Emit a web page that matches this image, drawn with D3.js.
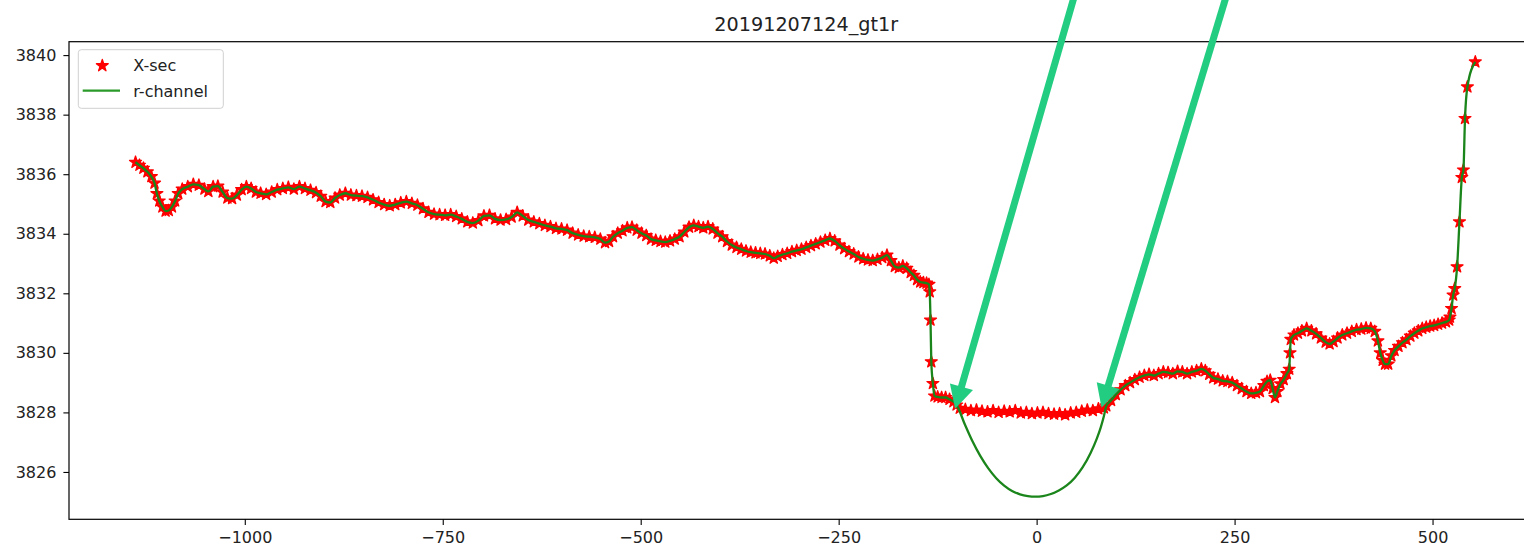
<!DOCTYPE html>
<html>
<head>
<meta charset="utf-8">
<script src="https://cdn.jsdelivr.net/npm/d3@7"></script>
<style>
  body { margin: 0; overflow: hidden; background: #fff; }
  svg { display: block; font-family: "DejaVu Sans", sans-serif; }
</style>
</head>
<body>
<svg id="chart"></svg>
<script>
//Cross section + r-channel fit

//values
const chartTitle = "20191207124_gt1r";

//x-sec west of the channel
const westX = [-1138,-1133,-1128,-1123,-1118,-1114,-1111,-1108,-1104,-1100,
  -1096,-1092,-1088,-1084,-1079,-1072,-1065,-1058,-1051,-1046,
  -1040,-1034,-1028,-1022,-1016,-1010,-1004,-998,-992,-986,
  -980,-973,-966,-959,-952,-945,-938,-931,-924,-917,
  -910,-904,-898,-892,-886,-880,-873,-866,-859,-852,
  -845,-838,-831,-824,-817,-810,-803,-796,-789,-782,
  -775,-768,-761,-754,-747,-740,-733,-726,-719,-712,
  -705,-698,-691,-684,-677,-670,-663,-656,-649,-642,
  -635,-628,-621,-614,-607,-600,-593,-586,-579,-572,
  -565,-558,-551,-545,-540,-535,-529,-523,-517,-511,
  -505,-499,-493,-487,-481,-475,-469,-463,-457,-451,
  -445,-439,-433,-427,-421,-415,-409,-403,-397,-391,
  -385,-379,-373,-367,-361,-355,-349,-343,-337,-332,
  -327,-321,-315,-309,-303,-297,-291,-285,-279,-273,
  -267,-261,-255,-249,-243,-237,-231,-225,-219,-213,
  -207,-201,-195,-189,-184,-179,-174,-169,-164,-159,
  -155,-151,-147,-143,-139,-136,-135,-134,-133,-131,
  -129,-125,-120,-115,-110,-105];
const westY = [3836.40,3836.30,3836.20,3836.08,3835.92,3835.70,3835.35,3835.10,3834.90,3834.76,
  3834.78,3834.90,3835.10,3835.35,3835.50,3835.58,3835.66,3835.63,3835.50,3835.42,
  3835.58,3835.60,3835.40,3835.20,3835.18,3835.30,3835.48,3835.58,3835.52,3835.40,
  3835.36,3835.32,3835.40,3835.48,3835.52,3835.56,3835.50,3835.58,3835.52,3835.46,
  3835.38,3835.26,3835.08,3835.05,3835.20,3835.30,3835.36,3835.30,3835.28,3835.26,
  3835.22,3835.14,3835.05,3834.98,3834.94,3834.98,3835.04,3835.08,3835.02,3834.96,
  3834.84,3834.72,3834.66,3834.64,3834.62,3834.64,3834.58,3834.50,3834.40,3834.36,
  3834.44,3834.60,3834.62,3834.50,3834.46,3834.48,3834.56,3834.72,3834.60,3834.46,
  3834.40,3834.34,3834.28,3834.24,3834.18,3834.16,3834.12,3834.02,3833.96,3833.92,
  3833.90,3833.88,3833.82,3833.70,3833.74,3833.90,3834.02,3834.10,3834.20,3834.22,
  3834.12,3834.02,3833.94,3833.82,3833.78,3833.74,3833.72,3833.76,3833.82,3833.90,
  3834.06,3834.22,3834.28,3834.24,3834.20,3834.24,3834.16,3834.02,3833.90,3833.74,
  3833.62,3833.54,3833.48,3833.42,3833.38,3833.36,3833.34,3833.32,3833.26,3833.18,
  3833.24,3833.30,3833.34,3833.40,3833.44,3833.48,3833.54,3833.60,3833.66,3833.72,
  3833.78,3833.84,3833.76,3833.62,3833.50,3833.40,3833.32,3833.22,3833.16,3833.12,
  3833.10,3833.14,3833.20,3833.28,3833.10,3832.90,3832.86,3832.92,3832.84,3832.70,
  3832.60,3832.46,3832.38,3832.36,3832.34,3832.30,3832.05,3831.10,3829.70,3828.97,
  3828.55,3828.52,3828.50,3828.50,3828.44,3828.36];

//x-sec across the flat channel bottom
const channelX = [-101,-97,-90,-83,-76,-69,-62,-55,-48,-41,-34,-27,-20,-13,-6,1,8,15,22,29,36,43,50,57,64,71,78,85];
const channelY = [3828.25,3828.14,3828.10,3828.06,3828.08,3828.04,3828.02,3828.06,3828.00,3828.04,3828.02,3828.06,3827.98,3828.00,
  3827.96,3827.98,3828.00,3827.96,3827.94,3827.96,3827.92,3827.98,3828.00,3828.04,3828.08,3828.06,3828.12,3828.15];

//x-sec east of the channel
const eastX = [88,94,100,106,112,118,124,130,136,142,
  148,154,160,166,172,178,184,190,196,202,
  208,213,218,223,229,235,241,247,253,259,
  265,271,277,282,287,291,295,298,301,304,
  308,312,316,319,320,321,325,330,335,341,
  347,353,359,365,370,375,380,386,392,398,
  404,410,416,422,427,431,434,437,440,444,
  448,452,457,462,467,472,477,482,487,492,
  497,502,507,512,517,521,522,524,526,528,
  531,534,537,539,541,544,554];
const eastY = [3828.22,3828.40,3828.60,3828.76,3828.90,3829.00,3829.10,3829.18,3829.24,3829.28,
  3829.24,3829.30,3829.36,3829.34,3829.30,3829.38,3829.36,3829.30,3829.36,3829.40,
  3829.46,3829.40,3829.28,3829.16,3829.12,3829.06,3829.04,3829.00,3828.90,3828.80,
  3828.70,3828.64,3828.66,3828.70,3828.90,3829.04,3829.08,3828.80,3828.50,3828.70,
  3828.96,3829.10,3829.30,3829.45,3830.00,3830.45,3830.60,3830.66,3830.74,3830.82,
  3830.74,3830.64,3830.50,3830.36,3830.30,3830.38,3830.50,3830.60,3830.66,3830.72,
  3830.78,3830.80,3830.84,3830.82,3830.72,3830.40,3830.00,3829.75,3829.62,3829.62,
  3829.90,3830.08,3830.22,3830.34,3830.44,3830.56,3830.66,3830.74,3830.82,3830.86,
  3830.90,3830.92,3830.96,3831.00,3831.04,3831.10,3831.20,3831.49,3831.94,3832.16,
  3832.89,3834.40,3835.89,3836.14,3837.87,3838.93,3839.77];

//r-channel bowl under the flat bottom
const bowlX = [-101,-91,-81,-71,-61,-51,-41,-31,-21,-11,-2,8,18,28,38,48,58,68,76,81,85];
const bowlY = [3828.25,3827.62,3827.03,3826.53,3826.12,3825.79,3825.54,3825.36,3825.25,3825.19,3825.17,
  3825.19,3825.26,3825.38,3825.55,3825.80,3826.15,3826.63,3827.12,3827.50,3827.88];

//ticks
const xTicks = [-1000, -750, -500, -250, 0, 250, 500];
const yTicks = [3826, 3828, 3830, 3832, 3834, 3836, 3838, 3840];

//annotation arrows (data coords, tails run off the top)
const arrowTips = [[-103, 3828.12], [82, 3828.16]];
const arrowTails = [[50, 3842.2], [242, 3842.2]];

//build the two series
const zip = (xs, ys) => xs.map((x, i) => ({x: x, y: ys[i]}));
const xsec = zip(westX, westY).concat(zip(channelX, channelY), zip(eastX, eastY));
const rchannel = zip(westX, westY).concat(zip(bowlX, bowlY), zip(eastX, eastY));

const margin = {top: 41.7, left: 69};
const width = 1474.4;
const height = 477.6;

const svg = d3.select("#chart")
              .attr("width", 1560)
              .attr("height", 550);

const g = svg.append("g")
             .attr("transform", `translate(${margin.left}, ${margin.top})`);

//scales
const x = d3.scaleLinear()
            .domain([-1222, 640])
            .range([0, width]);

const y = d3.scaleLinear()
            .domain([3824.41, 3840.45])
            .range([height, 0]);

//axes
const xAxis = g.append("g")
               .attr("transform", `translate(0, ${height})`)
               .call(d3.axisBottom(x).tickValues(xTicks).tickSize(5.6).tickPadding(7).tickFormat(d3.format("d")));

const yAxis = g.append("g")
               .call(d3.axisLeft(y).tickValues(yTicks).tickSize(5.6).tickPadding(7).tickFormat(d3.format("d")));

[xAxis, yAxis].forEach(a => {
  a.select(".domain").remove();
  a.attr("font-family", null).attr("font-size", null);
  a.selectAll("line").attr("stroke", "#000").attr("stroke-width", 1.1);
  a.selectAll("text").attr("fill", "#222").style("font-size", "16px");
});

//x-sec stars
const star = d3.symbol().type(d3.symbolStar).size(44);

g.append("g")
 .selectAll("path")
 .data(xsec)
 .enter().append("path")
 .attr("d", star)
 .attr("transform", d => `translate(${x(d.x)}, ${y(d.y)})`)
 .attr("fill", "#ff0000")
 .attr("stroke", "#ff0000")
 .attr("stroke-width", 1.3)
 .attr("stroke-linejoin", "round");

//r-channel line
const line = d3.line()
               .x(d => x(d.x))
               .y(d => y(d.y))
               .curve(d3.curveMonotoneX);

g.append("path")
 .datum(rchannel)
 .attr("d", line)
 .attr("fill", "none")
 .attr("stroke", "#1a851a")
 .attr("stroke-width", 2.3)
 .attr("stroke-linejoin", "round");

//frame
g.append("rect")
 .attr("width", width)
 .attr("height", height)
 .attr("fill", "none")
 .attr("stroke", "#000")
 .attr("stroke-width", 1.2);

//title
svg.append("text")
   .attr("x", margin.left + width / 2)
   .attr("y", 31)
   .attr("text-anchor", "middle")
   .style("font-size", "19.2px")
   .attr("fill", "#222")
   .text(chartTitle);

//legend
const legend = g.append("g").attr("transform", "translate(9.3, 8)");

legend.append("rect")
      .attr("width", 145)
      .attr("height", 58.6)
      .attr("rx", 3)
      .attr("fill", "#fff")
      .attr("fill-opacity", 0.8)
      .attr("stroke", "#d0d0d0");

legend.append("path")
      .attr("d", star)
      .attr("transform", "translate(24, 16)")
      .attr("fill", "#ff0000")
      .attr("stroke", "#ff0000")
      .attr("stroke-width", 1.3)
      .attr("stroke-linejoin", "round");

legend.append("text")
      .attr("x", 55)
      .attr("y", 21.5)
      .style("font-size", "16px")
      .attr("fill", "#222")
      .text("X-sec");

legend.append("line")
      .attr("x1", 4.4).attr("x2", 41.7)
      .attr("y1", 41).attr("y2", 41)
      .attr("stroke", "#2a9a2a")
      .attr("stroke-width", 2.3);

legend.append("text")
      .attr("x", 55)
      .attr("y", 47)
      .style("font-size", "16px")
      .attr("fill", "#222")
      .text("r-channel");

//arrows pointing at the channel edges
const arrowColor = "#22cc80";
arrowTips.forEach((tip, i) => {
  const tx = x(tip[0]), ty = y(tip[1]);
  const sx = x(arrowTails[i][0]), sy = y(arrowTails[i][1]);
  const len = Math.hypot(tx - sx, ty - sy);
  const ux = (tx - sx) / len, uy = (ty - sy) / len;
  const headLen = 23, headHalf = 12;
  const bx = tx - ux * headLen, by = ty - uy * headLen;

  g.append("line")
   .attr("x1", sx).attr("y1", sy)
   .attr("x2", bx + ux * 2).attr("y2", by + uy * 2)
   .attr("stroke", arrowColor)
   .attr("stroke-width", 7);

  g.append("path")
   .attr("d", `M${tx},${ty} L${bx - uy * headHalf},${by + ux * headHalf} L${bx + uy * headHalf},${by - ux * headHalf} Z`)
   .attr("fill", arrowColor);
});
</script>
</body>
</html>
